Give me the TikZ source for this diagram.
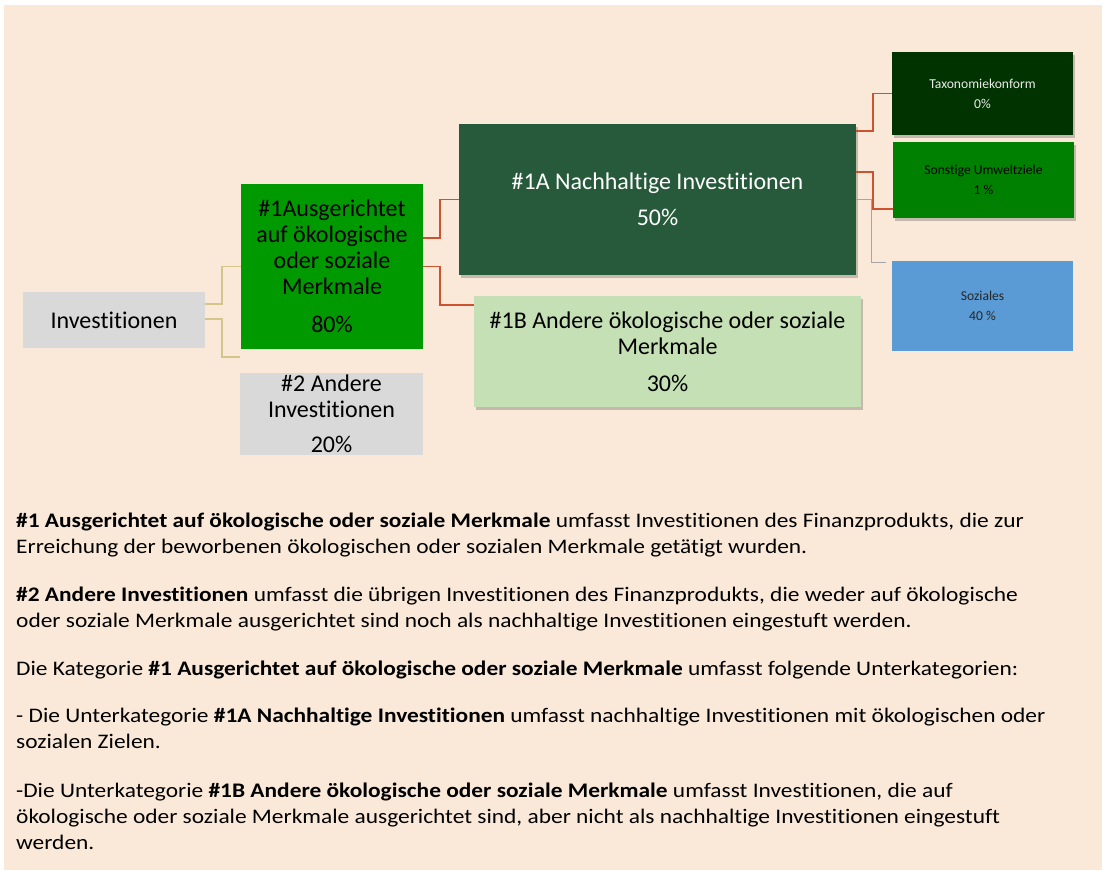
\documentclass[tikz,border=0pt]{standalone}
\usepackage{fontspec}
\setmainfont{Carlito}[Ligatures=NoCommon]
\newfontfamily\parafont{Carlito}[Ligatures=NoCommon, FakeStretch=1.13]
\usetikzlibrary{shadows}
\definecolor{bg}{HTML}{FAE9D8}
\definecolor{grayfill}{HTML}{D9D9D9}
\definecolor{greenA}{HTML}{009900}
\definecolor{darkgreen}{HTML}{265A3A}
\definecolor{lightgreen}{HTML}{C5E0B4}
\definecolor{taxgreen}{HTML}{003300}
\definecolor{songreen}{HTML}{008000}
\definecolor{sozblue}{HTML}{5B9BD5}
\definecolor{tanline}{HTML}{D4C68A}
\definecolor{redline}{HTML}{CC5230}
\definecolor{grayline}{HTML}{A6A6A6}
\begin{document}
\begin{tikzpicture}[x=1pt,y=-1pt,
  box/.style={rectangle, inner sep=0pt, align=center, font=\fontsize{24}{26}\selectfont},
  smallbox/.style={rectangle, inner sep=0pt, align=center, font=\fontsize{13.6}{16}\selectfont,
    minimum width=181pt},
  shade/.style={drop shadow={shadow xshift=2pt, shadow yshift=-2.5pt, opacity=0.3, fill=black!70}},
  tanconn/.style={draw=tanline, line width=1.6pt},
  redconn/.style={draw=redline, line width=1.8pt},
  grayconn/.style={draw=grayline, line width=1.3pt},
  para/.style={anchor=base west, inner sep=0pt, font=\parafont\fontsize{20.7}{26}\selectfont}
]
\useasboundingbox (0,0) rectangle (1105,870);
\fill[white] (0,0) rectangle (1105,870);
\fill[bg] (4,5) rectangle (1102,870);

% boxes
\node[box, fill=grayfill, minimum width=182pt, minimum height=56pt] (inv) at (114,320) {Investitionen};
\node[box, fill=greenA, minimum width=182pt, minimum height=165pt] (n1) at (332,266.5)
  {\#1Ausgerichtet\\auf ökologische\\oder soziale\\Merkmale\\[12pt]80\%};
\node[box, fill=grayfill, minimum width=183pt, minimum height=82pt] (n2) at (331.5,414)
  {\#2 Andere\\Investitionen\\[9pt]20\%};
\node[box, shade, fill=darkgreen, text=white, minimum width=397pt, minimum height=151pt] (n1a) at (657.5,199.5)
  {\#1A Nachhaltige Investitionen\\[10pt]50\%};
\node[box, shade, fill=lightgreen, minimum width=387pt, minimum height=111pt] (n1b) at (667.5,351.5)
  {\#1B Andere ökologische oder soziale\\Merkmale\\[11pt]30\%};
\node[smallbox, shade, fill=taxgreen, text=white!92!black, minimum height=83pt] (tax) at (982.5,93.5)
  {Taxonomiekonform\\[4pt]0\%};
\node[smallbox, shade, fill=songreen, text=black, minimum height=76pt] (son) at (983.5,180)
  {Sonstige Umweltziele\\[4pt]1 \%};
\node[smallbox, fill=sozblue, text=black!85, minimum height=90pt] (soz) at (982.5,306)
  {Soziales\\[4pt]40 \%};

% connectors
\draw[tanconn] ([yshift=16pt]inv.east) -- ++(17,0) |- (n1.west);
\draw[tanconn] ([yshift=1pt]inv.east) -- ++(17,0) |- ([yshift=16pt]n2.north west);
\draw[redconn] ([yshift=28.5pt]n1.east) -- ++(17,0) |- (n1a.west);
\draw[redconn] (n1.east) -- ++(17,0) |- ([yshift=46.5pt]n1b.west);
\draw[redconn] ([yshift=68.5pt]n1a.east) -- ++(17,0) |- (tax.west);
\draw[redconn] ([yshift=27.5pt]n1a.east) -- ++(17,0) |- ([yshift=-29pt]son.west);
\coordinate (sozend) at ([xshift=-6pt,yshift=-2pt]soz.north west);
\draw[grayconn] (n1a.east) -- ++(15,0) |- (sozend);

% text
\node[para] (p1) at (16,527) {\textbf{\#1 Ausgerichtet auf ökologische oder soziale Merkmale} umfasst Investitionen des Finanzprodukts, die zur};
\node[para] (p2) at (16,553) {Erreichung der beworbenen ökologischen oder sozialen Merkmale getätigt wurden.};
\node[para] (p3) at (16,601) {\textbf{\#2 Andere Investitionen} umfasst die übrigen Investitionen des Finanzprodukts, die weder auf ökologische};
\node[para] (p4) at (16,627) {oder soziale Merkmale ausgerichtet sind noch als nachhaltige Investitionen eingestuft werden.};
\node[para] (p5) at (16,675) {Die Kategorie \textbf{\#1 Ausgerichtet auf ökologische oder soziale Merkmale} umfasst folgende Unterkategorien:};
\node[para] (p6) at (16,722) {- Die Unterkategorie \textbf{\#1A Nachhaltige Investitionen} umfasst nachhaltige Investitionen mit ökologischen oder};
\node[para] (p7) at (16,748) {sozialen Zielen.};
\node[para] (p8) at (16,797) {-Die Unterkategorie \textbf{\#1B Andere ökologische oder soziale Merkmale} umfasst Investitionen, die auf};
\node[para] (p9) at (16,823) {ökologische oder soziale Merkmale ausgerichtet sind, aber nicht als nachhaltige Investitionen eingestuft};
\node[para] (p10) at (16,849) {werden.};
\end{tikzpicture}
\end{document}
